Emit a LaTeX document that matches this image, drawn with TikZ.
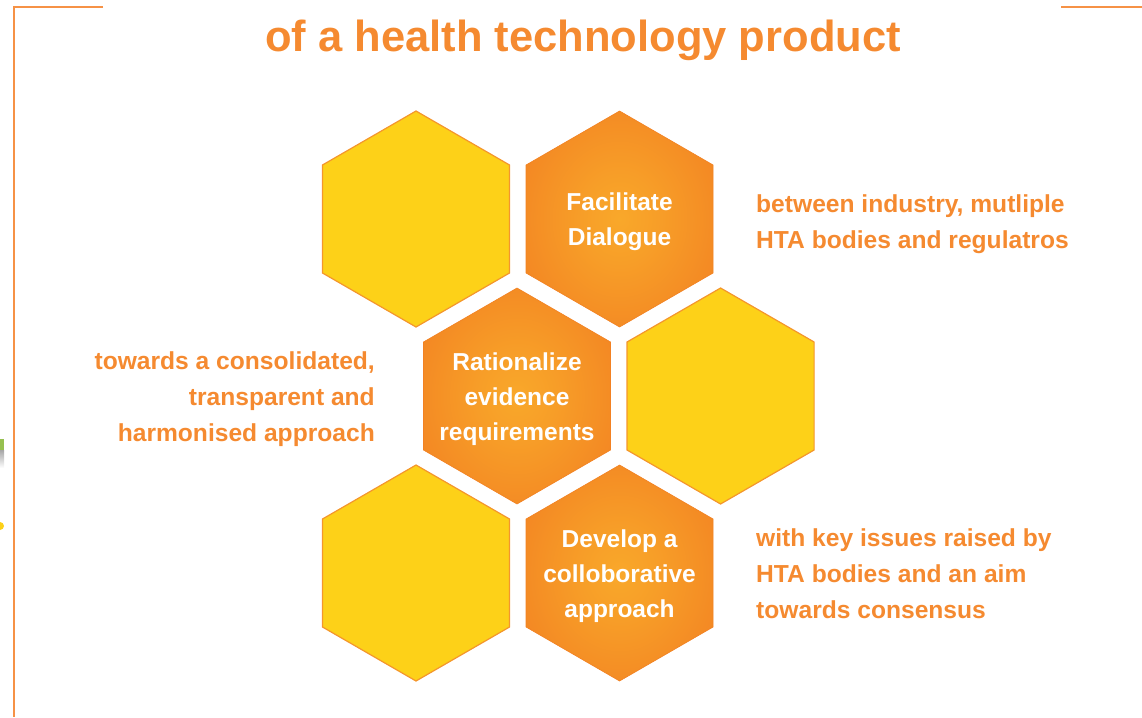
\documentclass[tikz,border=0pt]{standalone}
\usepackage{fontspec}
\setmainfont{Liberation Sans}
\usetikzlibrary{shapes.geometric,positioning}
\definecolor{hexyellow}{RGB}{253,209,24}
\definecolor{hexline}{RGB}{244,150,44}
\definecolor{hexlight}{RGB}{249,168,42}
\definecolor{hexdark}{RGB}{242,129,34}
\definecolor{txtorange}{RGB}{245,138,48}
\definecolor{frameorange}{RGB}{246,146,70}
\definecolor{leafgreen}{RGB}{150,192,80}
\pgfdeclareradialshading{hexglow}{\pgfpoint{0bp}{0bp}}{color(0bp)=(hexlight); color(10bp)=(hexlight!75!hexdark); color(34bp)=(hexdark); color(50bp)=(hexdark)}
\tikzset{
    hex/.style =    {regular polygon,
                    regular polygon sides=6,
                    regular polygon rotate=30,
                    minimum size=216pt,
                    inner sep=0pt,
                    outer sep=0pt},
    yhex/.style =   {hex,
                    fill=hexyellow,
                    draw=hexline,
                    line width=1.2pt},
    ohex/.style =   {hex,
                    shading=hexglow,
                    draw=hexdark,
                    line width=0.6pt},
    hexlabel/.style = {text=white,
                    inner sep=0pt,
                    yshift=-3pt,
                    align=center,
                    font=\bfseries\fontsize{24.5}{35}\selectfont},
    note/.style =   {text=txtorange,
                    inner sep=0pt,
                    font=\bfseries\fontsize{24.6}{36}\selectfont},
    title/.style =  {text=txtorange,
                    inner sep=0pt,
                    anchor=base,
                    font=\bfseries\fontsize{43.5}{50}\selectfont},
    frame/.style =  {draw=frameorange,
                    line width=2pt}
}
\begin{document}
\begin{tikzpicture}[x=1pt,y=-1pt]
    \useasboundingbox (0,0) rectangle (1142,717);
    \node[title]    (T)  at (583,52)          {of a health technology product};
    \node[yhex]     (Y1) at (416,219)         {};
    \node[ohex,label={[hexlabel]center:{Facilitate\\Dialogue}}]
                    (FD) [right=16.5pt of Y1] {};
    \node[ohex,label={[hexlabel]center:{Rationalize\\evidence\\requirements}}]
                    (RE) at (517,396)         {};
    \node[yhex]     (Y2) [right=16.5pt of RE] {};
    \node[yhex]     (Y3) at (416,573)         {};
    \node[ohex,label={[hexlabel]center:{Develop a\\colloborative\\approach}}]
                    (DC) [right=16.5pt of Y3] {};
    \node[note,anchor=west,align=left]  (N1) at (756,224) {between industry, mutliple\\HTA bodies and regulatros};
    \node[note,anchor=east,align=right] (N2) at (375,399) {towards a consolidated,\\transparent and\\harmonised approach};
    \node[note,anchor=west,align=left]  (N3) at (756,574) {with key issues raised by\\HTA bodies and an aim\\towards consensus};
    \coordinate (f1) at (103,7);
    \coordinate (f2) at (14,7);
    \coordinate (f3) at (14,717);
    \coordinate (f4) at (1061,7);
    \coordinate (f5) at (1142,7);
    \draw[frame] (f1) -- (f2) -- (f3) (f4) -- (f5);
    \fill[leafgreen] (0,439) rectangle (4,450);
    \shade[top color=black!35,bottom color=white] (0,450) rectangle (4,468);
    \fill[hexyellow] (0,526) circle (4);
\end{tikzpicture}
\end{document}
